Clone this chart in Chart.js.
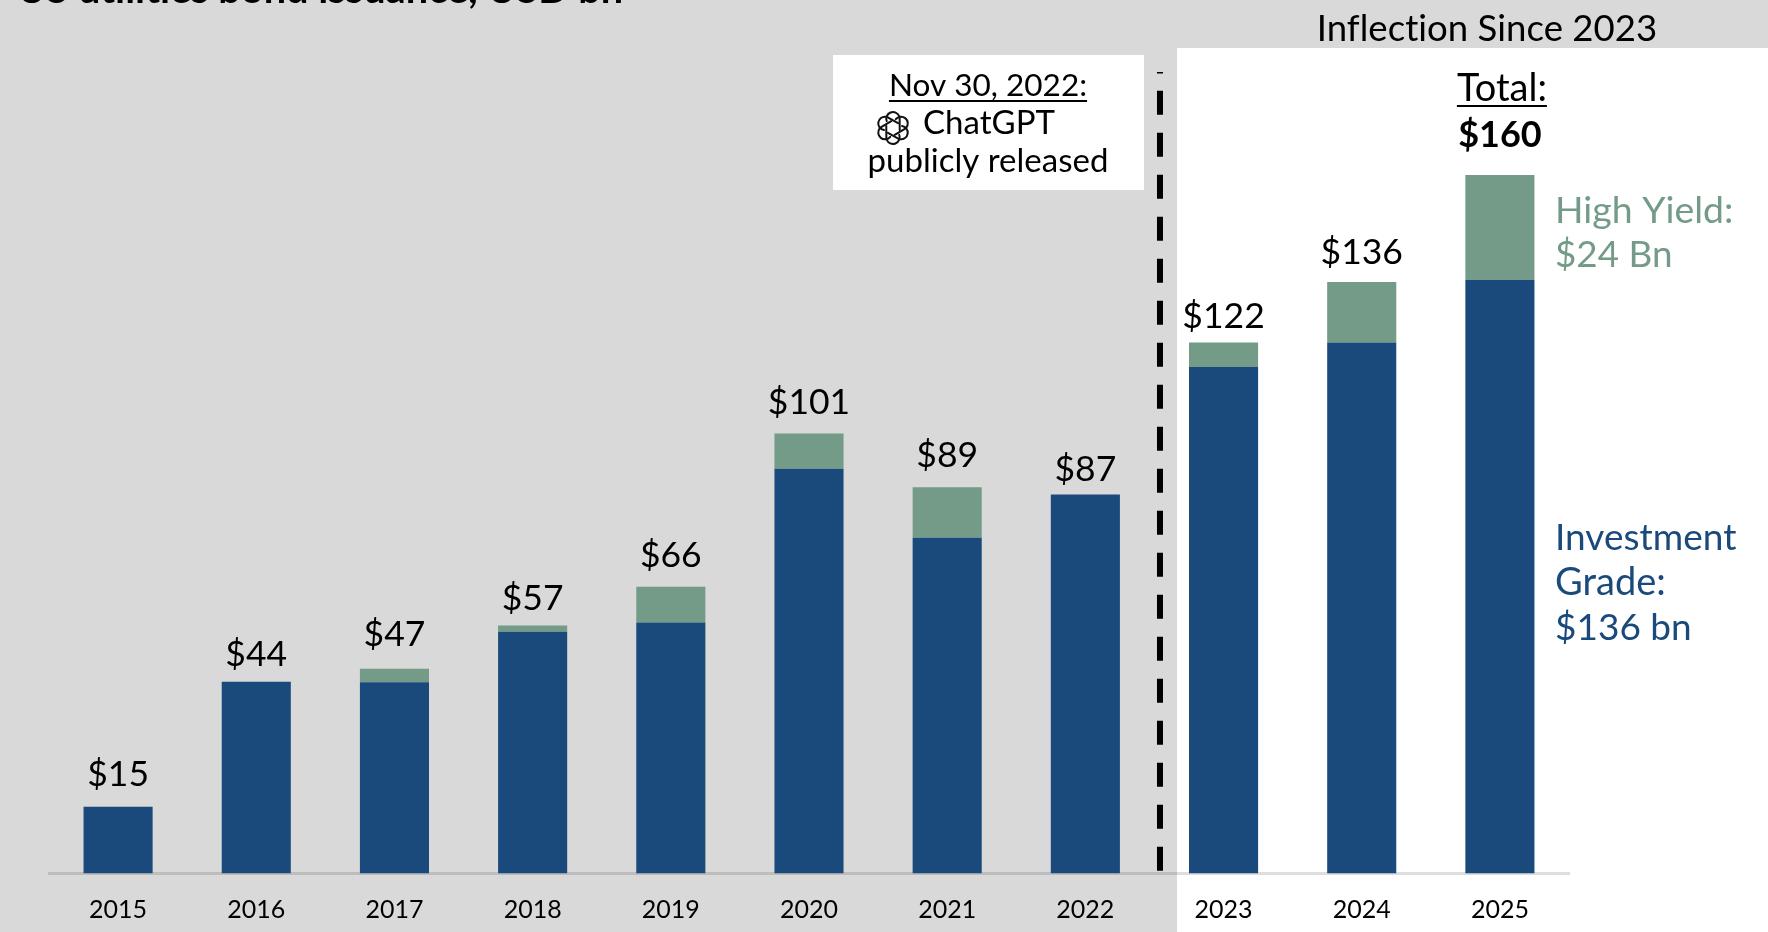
<!DOCTYPE html>
<html><head><meta charset="utf-8">
<style>html,body{margin:0;padding:0;background:#fff;overflow:hidden}#w{width:1768px;height:932px;position:relative}</style>
<script src="https://cdn.jsdelivr.net/npm/chart.js@4"></script>
</head><body><div id="w"><canvas id="c" width="1768" height="932"></canvas></div>
<script>
const years = ['2015','2016','2017','2018','2019','2020','2021','2022','2023','2024','2025'];
const investmentGrade = [15.3,43.9,43.8,55.4,57.5,92.7,76.9,86.8,116,121.6,136];
const highYield = [0,0,3.1,1.4,8.2,8.1,11.6,0,5.6,13.9,24];
const totals = ['$15','$44','$47','$57','$66','$101','$89','$87','$122','$136','$160'];
const NAVY='#1a4a7c', GREEN='#739b87', GREY='#d9d9d9';
const FONT='Lato, sans-serif';
const labelLift=[21,15.6,22.3,15.6,20,19.4,20,14,14.7,17.8,0];

function text(ctx,s,x,y,font,color,align,underline){
  ctx.font=font;ctx.fillStyle=color;ctx.textAlign=align||'left';ctx.textBaseline='alphabetic';
  ctx.letterSpacing='0.01px';
  ctx.fillText(s,x,y);
  if(underline){
    const w=ctx.measureText(s).width;
    const x0=align==='center'?x-w/2:x;
    ctx.fillRect(x0,y+4,w,2);
  }
}
function gptIcon(ctx,cx,cy,r){
  ctx.save();ctx.strokeStyle='#111';ctx.lineWidth=2;ctx.lineCap='round';ctx.translate(cx,cy);
  for(let i=0;i<6;i++){
    ctx.save();ctx.rotate(i*Math.PI/3+Math.PI/6);
    ctx.beginPath();
    ctx.arc(r*0.58,0,r*0.42,-Math.PI*0.62,Math.PI*0.45);
    ctx.lineTo(-r*0.12,r*0.42);
    ctx.stroke();
    ctx.restore();
  }
  ctx.restore();
}
const backdrop={id:'backdrop',beforeDraw(chart){
  const c=chart.ctx;
  c.save();
  c.fillStyle=GREY;c.fillRect(0,0,1768,932);
  c.fillStyle='#fff';c.fillRect(1177,48,591,884);
  c.fillStyle='#fff';c.fillRect(833,55,311,135);
  c.restore();
}};
const overlay={id:'overlay',afterDatasetsDraw(chart){
  const c=chart.ctx,x=chart.scales.x,y=chart.scales.y;
  c.save();
  years.forEach((yr,i)=>{
    const top=y.getPixelForValue(investmentGrade[i]+highYield[i]);
    if(yr==='2025')return;
    text(c,totals[i],x.getPixelForValue(i),top-labelLift[i],'35.5px '+FONT,'#000','center');
  });
  const dx=x.getPixelForValue(7.54);
  c.strokeStyle='#000';c.lineWidth=6;c.setLineDash([24,18]);c.lineDashOffset=0;
  c.beginPath();c.moveTo(dx,90.7);c.lineTo(dx,871);c.stroke();
  c.setLineDash([]);c.fillStyle='#000';c.fillRect(dx-3,72,6,1.5);
  text(c,'US utilities bond issuance, USD bn',17,3,'bold 39.7px '+FONT,'#000','left');
  text(c,'Inflection Since 2023',1487,41,'36.6px '+FONT,'#000','center');
  text(c,'Nov 30, 2022:',988,96,'31.5px '+FONT,'#000','center',true);
  gptIcon(c,893,128,16);
  text(c,'ChatGPT',989,134,'33px '+FONT,'#000','center');
  text(c,'publicly released',988,172,'33px '+FONT,'#000','center');
  const t25=x.getPixelForValue(10);
  text(c,'Total:',t25+2,101,'38px '+FONT,'#000','center',true);
  text(c,'$160',t25,147,'bold 36px '+FONT,'#000','center');
  text(c,'High Yield:',1555,223,'37.4px '+FONT,GREEN,'left');
  text(c,'$24 Bn',1555,267,'36.8px '+FONT,GREEN,'left');
  text(c,'Investment',1555,550,'37px '+FONT,NAVY,'left');
  text(c,'Grade:',1555,595,'38px '+FONT,NAVY,'left');
  text(c,'$136 bn',1555,640,'37px '+FONT,NAVY,'left');
  c.restore();
}};
new Chart(document.getElementById('c'),{
  type:'bar',
  data:{labels:years,datasets:[
    {label:'Investment Grade',data:investmentGrade,backgroundColor:NAVY,categoryPercentage:1,barPercentage:0.5,stack:'s'},
    {label:'High Yield',data:highYield,backgroundColor:GREEN,categoryPercentage:1,barPercentage:0.5,stack:'s'}
  ]},
  options:{
    responsive:false,animation:false,
    layout:{padding:{left:49,right:199,top:44,bottom:0}},
    plugins:{legend:{display:false},tooltip:{enabled:false}},
    scales:{
      x:{stacked:true,offset:true,
        afterFit(s){s.height=58.5;},
        grid:{display:false,drawTicks:false},
        border:{display:true,color:'rgba(0,0,0,0.13)',width:3},
        ticks:{color:'#000',font:{family:'Lato',size:25},padding:21,maxRotation:0,autoSkip:false}},
      y:{display:false,stacked:true,min:0,max:190}
    }
  },
  plugins:[backdrop,overlay]
});
</script></body></html>
